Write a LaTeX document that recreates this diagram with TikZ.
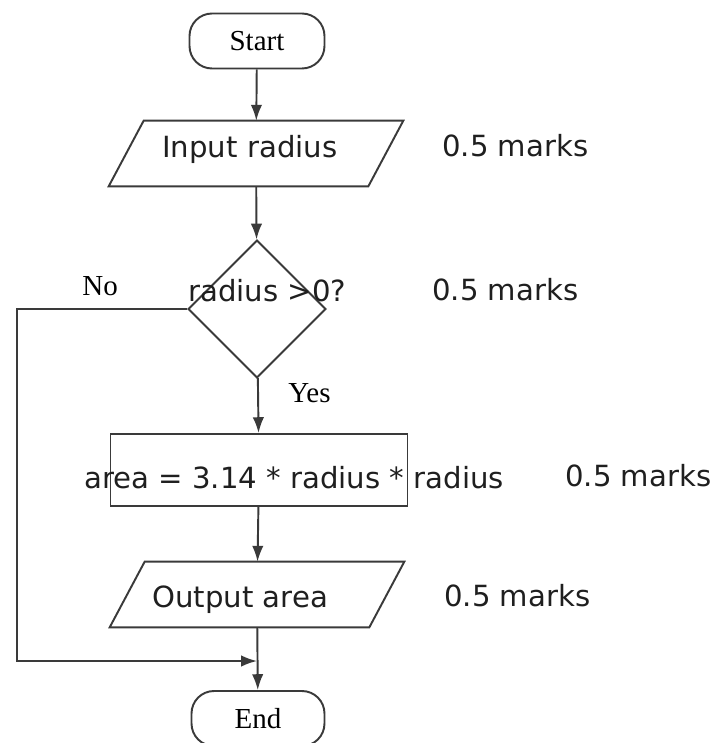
\documentclass[tikz,border=0pt]{standalone}
\usepackage{fontspec}
\setmainfont{Liberation Serif}
\newfontfamily\flowsans{DejaVu Sans}
\usetikzlibrary{shapes.geometric,arrows.meta}
\definecolor{linegray}{HTML}{3A3A3A}
\tikzstyle{shapeline}=[draw=linegray, line width=1.1pt, line join=miter]
\tikzstyle{terminal}=[shapeline, rectangle, rounded corners=0.45cm, minimum width=2.7cm, minimum height=1.1cm, inner sep=0pt, font=\fontsize{16.5}{20}\selectfont, text=black]
\tikzstyle{io}=[rectangle, minimum width=5.18cm, minimum height=1.3cm, inner sep=0pt]
\tikzstyle{decision}=[shapeline, diamond, minimum width=2.76cm, minimum height=2.76cm, inner sep=0pt]
\tikzstyle{process}=[shapeline, rectangle, minimum width=5.94cm, minimum height=1.44cm, inner sep=0pt]
\tikzstyle{flow}=[draw=linegray, line width=1.1pt, -{Latex[length=9pt,width=6.5pt]}]
\tikzstyle{sanstext}=[anchor=base west, inner sep=0pt, font=\flowsans\fontsize{16.6}{20}\selectfont, text=black!88]
\tikzstyle{seriftext}=[anchor=base west, inner sep=0pt, font=\fontsize{16.5}{20}\selectfont, text=black]
\newcommand{\halfmark}{\node[sanstext]}
\newcommand{\ioshape}[1]{\draw[shapeline] ([xshift=-0.35cm]#1.south west) -- ([xshift=-0.35cm]#1.south east) -- ([xshift=0.35cm]#1.north east) -- ([xshift=0.35cm]#1.north west) -- cycle;}

\begin{document}
\begin{tikzpicture}[x=0.02cm, y=-0.02cm]
	\useasboundingbox (0,0) rectangle (716,743);
	%% the shapes of the flowchart
	\node[terminal] (start) at (257,41) {Start};
	\node[io] (input) at (256,153.5) {};
	\node[decision] (decide) at (257,309) {};
	\node[process] (calc) at (259,470) {};
	\node[io] (output) at (257,594.5) {};
	\node[terminal, minimum width=2.66cm] (end) at (258,718.5) {End};
	\ioshape{input}
	\ioshape{output}
	\coordinate (corner) at (17,661);
	\coordinate (merge) at (257,661);
	%% the texts
	\node[sanstext] (inputtxt) at (162,158) {Input radius};
	\node[sanstext] (decidetxt) at (188,301) {radius >0?};
	\node[sanstext] (calctxt) at (84,488) {area = 3.14 * radius * radius};
	\node[sanstext] (outputtxt) at (152,607) {Output area};
	\halfmark (mark1) at (442,157) {0.5 marks};
	\halfmark (mark2) at (432,300) {0.5 marks};
	\halfmark (mark3) at (565,486) {0.5 marks};
	\halfmark (mark4) at (444,606) {0.5 marks};
	\node[seriftext] (no) at (82,295) {No};
	\node[seriftext] (yes) at (288,402) {Yes};
	%% for the connectors
	\draw[flow] (start) -- (input);
	\draw[flow] (input) -- (decide);
	\draw[flow] (decide) -- (calc);
	\draw[flow] (calc) -- (output);
	\draw[flow] (output) -- (end);
	\draw[flow] (decide.west) -| (corner) -- (merge);
\end{tikzpicture}
\end{document}
